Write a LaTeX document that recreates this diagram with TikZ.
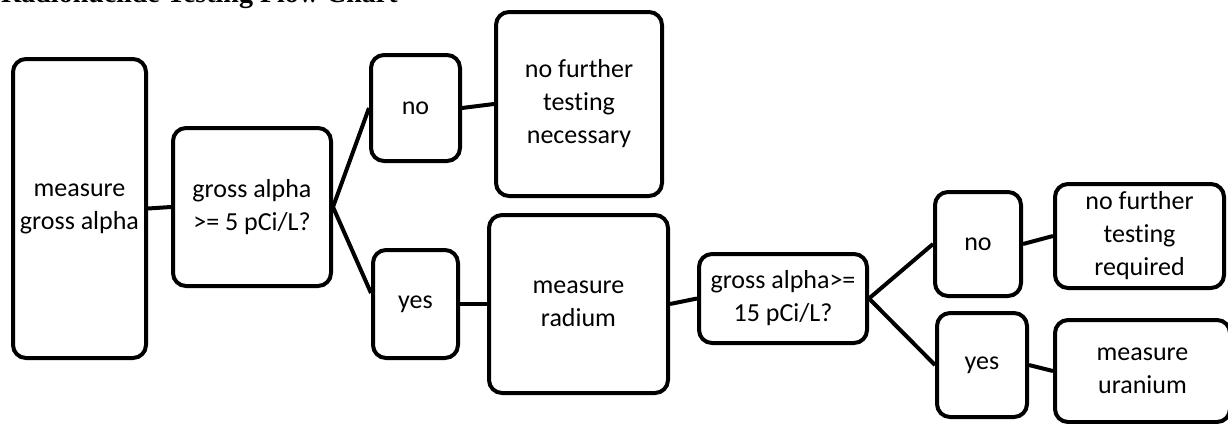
\documentclass[tikz,border=0pt]{standalone}
\usepackage{fontspec}
\setmainfont{Carlito}[Ligatures=NoCommon]
\newfontfamily\titlefont{Liberation Serif}
\usetikzlibrary{positioning}
\begin{document}
\begin{tikzpicture}[x=1pt,y=-1pt,
  box/.style={draw=black,line width=4pt,rounded corners=13pt,align=center,
    font=\fontsize{26}{33}\selectfont,inner sep=0pt},
  link/.style={draw=black,line width=4pt}]
\useasboundingbox (0,0) rectangle (1228,423);
\fill[white] (0,0) rectangle (1228,423);
\node[anchor=base west,font=\titlefont\bfseries\fontsize{28}{32}\selectfont,inner sep=0pt] (title) at (1,2) {Radionuclide Testing Flow Chart};
\node[box,minimum width=133pt,minimum height=299pt] (A) at (79.5,208.5) {measure\\gross alpha};
\node[box,minimum width=158pt,minimum height=158pt] (B) at (252,207) {gross alpha\\>= 5 pCi/L?};
\node[box,minimum width=89pt,minimum height=106pt] (C) at (415.5,108) {no};
\node[box,minimum width=166pt,minimum height=184pt] (D) at (579,104) {no further\\testing\\necessary};
\node[box,minimum width=85pt,minimum height=108pt] (E) at (415.5,304) {yes};
\node[box,minimum width=179pt,minimum height=178pt] (F) at (578.5,304) {measure\\radium};
\node[box,minimum width=168pt,minimum height=89pt] (G) at (783,298.5) {gross alpha>=\\15 pCi/L?};
\node[box,minimum width=86pt,minimum height=104pt] (H) at (978,244) {no};
\node[box,minimum width=90pt,minimum height=104pt] (I) at (982,365) {yes};
\node[box,minimum width=169pt,minimum height=104pt] (J) at (1139.5,236) {no further\\testing\\required};
\node[box,minimum width=175pt,minimum height=102pt] (K) at (1142.5,371) {measure\\uranium};
\draw[link] (A.east) -- (B.west);
\draw[link] (B.east) -- (C.west);
\draw[link] (B.east) -- ([yshift=11pt]E.west);
\draw[link] (C.east) -- (D.west);
\draw[link] (E.east) -- (F.west);
\draw[link] (F.east) -- (G.west);
\draw[link] (G.east) -- (H.west);
\draw[link] (G.east) -- (I.west);
\draw[link] (H.east) -- (J.west);
\draw[link] (I.east) -- (K.west);
\end{tikzpicture}
\end{document}
